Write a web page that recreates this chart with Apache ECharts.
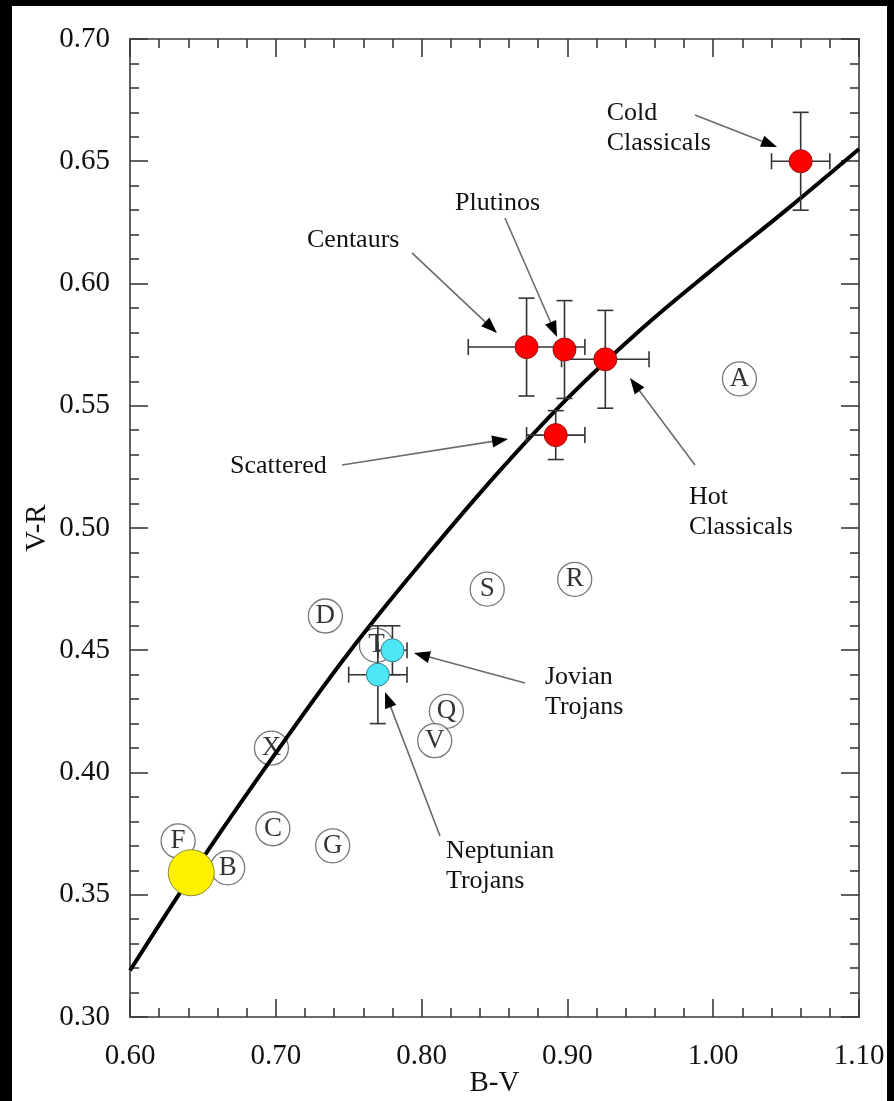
<!DOCTYPE html>
<html>
<head>
<meta charset="utf-8">
<script src="https://cdn.jsdelivr.net/npm/echarts@6/dist/echarts.min.js"></script>
<style>
html,body{margin:0;padding:0;background:#000;}
#chart{width:894px;height:1101px;}
</style>
</head>
<body>
<div id="chart"></div>
<script>
// Model colour curve (B-V, V-R)
const curveBV = [0.60, 0.65, 0.70, 0.75, 0.80, 0.85, 0.90, 0.95, 1.00, 1.05, 1.10];
const curveVR = [0.319, 0.365, 0.408, 0.449, 0.486, 0.521, 0.553, 0.581, 0.606, 0.630, 0.655];

// Trans-Neptunian populations (red)
const groupNames = ['Cold Classicals', 'Centaurs', 'Plutinos', 'Hot Classicals', 'Scattered'];
const groupBV    = [1.060, 0.872, 0.898, 0.926, 0.892];
const groupVR    = [0.650, 0.574, 0.573, 0.569, 0.538];
const groupBVerr = [0.020, 0.040, 0.006, 0.030, 0.020];
const groupVRerr = [0.020, 0.020, 0.020, 0.020, 0.010];

// Trojans (cyan)
const trojanNames = ['Jovian Trojans', 'Neptunian Trojans'];
const trojanBV    = [0.780, 0.770];
const trojanVR    = [0.450, 0.440];
const trojanBVerr = [0.010, 0.020];
const trojanVRerr = [0.010, 0.020];

// Sun
const sunBV = [0.642];
const sunVR = [0.359];

// Asteroid taxonomic classes
const classNames = ['A', 'R', 'S', 'D', 'T', 'Q', 'V', 'X', 'C', 'G', 'F', 'B'];
const classBV = [1.018, 0.905, 0.845, 0.734, 0.769, 0.817, 0.809, 0.697, 0.698, 0.739, 0.633, 0.667];
const classVR = [0.561, 0.479, 0.475, 0.464, 0.452, 0.425, 0.413, 0.410, 0.377, 0.370, 0.372, 0.361];

// Annotation texts and arrows (anchored in data units)
const noteTexts = ['Cold\nClassicals', 'Plutinos', 'Centaurs', 'Scattered', 'Hot\nClassicals', 'Jovian\nTrojans', 'Neptunian\nTrojans'];
const noteBV = [0.927, 0.8229, 0.7214, 0.6686, 0.9834, 0.8846, 0.8167];
const noteVR = [0.6636, 0.6329, 0.6178, 0.5254, 0.5065, 0.4329, 0.3618];
const arrowFromBV = [0.9875, 0.8572, 0.7934, 0.7454, 0.9875, 0.8709, 0.8126];
const arrowFromVR = [0.6689, 0.6268, 0.6125, 0.5258, 0.5258, 0.4366, 0.3740];
const arrowToBV   = [1.0438, 0.8929, 0.8517, 0.8593, 0.9429, 0.7948, 0.7749];
const arrowToVR   = [0.6558, 0.5781, 0.5798, 0.5364, 0.5613, 0.4489, 0.4329];

// Axis ticks
const xTickLabels = ['0.60', '0.70', '0.80', '0.90', '1.00', '1.10'];
const yTickLabels = ['0.30', '0.35', '0.40', '0.45', '0.50', '0.55', '0.60', '0.65', '0.70'];

const FONT = '"Liberation Serif", "DejaVu Serif", serif';
const AXIS_COLOR = '#3a3a3a';

const chart = echarts.init(document.getElementById('chart'), null, {renderer: 'canvas'});

function axisCommon(showLabel, labels, isX) {
  return {
    type: 'value',
    axisLine: {show: true, onZero: false, lineStyle: {color: AXIS_COLOR, width: 1.6}},
    axisTick: {show: true, inside: true, length: 18, lineStyle: {color: AXIS_COLOR, width: 1.6}},
    minorTick: {show: true, splitNumber: 5, length: 9, lineStyle: {color: AXIS_COLOR, width: 1.6}},
    splitLine: {show: false},
    minorSplitLine: {show: false},
    axisLabel: {
      show: showLabel,
      color: '#111',
      fontFamily: FONT,
      fontSize: 29,
      margin: isX ? 25 : 20,
      formatter: function (v) {
        const s = v.toFixed(2);
        return labels.indexOf(s) >= 0 ? s : '';
      }
    }
  };
}

const errData = groupBV.map((v, i) => [v, groupVR[i], groupBVerr[i], groupVRerr[i]])
  .concat(trojanBV.map((v, i) => [v, trojanVR[i], trojanBVerr[i], trojanVRerr[i]]));

function renderErr(params, api) {
  const x = api.value(0), y = api.value(1), ex = api.value(2), ey = api.value(3);
  const l = api.coord([x - ex, y]), r = api.coord([x + ex, y]);
  const t = api.coord([x, y + ey]), b = api.coord([x, y - ey]);
  const cap = 8;
  const st = {stroke: '#333', lineWidth: 1.6, fill: null};
  const seg = (x1, y1, x2, y2) => ({type: 'line', shape: {x1, y1, x2, y2}, style: st});
  return {
    type: 'group',
    children: [
      seg(l[0], l[1], r[0], r[1]),
      seg(l[0], l[1] - cap, l[0], l[1] + cap),
      seg(r[0], r[1] - cap, r[0], r[1] + cap),
      seg(t[0], t[1], b[0], b[1]),
      seg(t[0] - cap, t[1], t[0] + cap, t[1]),
      seg(b[0] - cap, b[1], b[0] + cap, b[1])
    ]
  };
}

const arrowData = arrowFromBV.map((v, i) => [v, arrowFromVR[i], arrowToBV[i], arrowToVR[i]]);
function renderArrow(params, api) {
  const p1 = api.coord([api.value(0), api.value(1)]);
  const p2 = api.coord([api.value(2), api.value(3)]);
  const dx = p2[0] - p1[0], dy = p2[1] - p1[1];
  const len = Math.sqrt(dx * dx + dy * dy);
  const ux = dx / len, uy = dy / len;
  const hl = 16, hw = 6;
  const bx = p2[0] - ux * hl, by = p2[1] - uy * hl;
  return {
    type: 'group',
    children: [
      {type: 'line', shape: {x1: p1[0], y1: p1[1], x2: bx + ux * 2, y2: by + uy * 2},
       style: {stroke: '#6b6b6b', lineWidth: 1.6}},
      {type: 'polygon', shape: {points: [[p2[0], p2[1]], [bx - uy * hw, by + ux * hw], [bx + uy * hw, by - ux * hw]]},
       style: {fill: '#000'}}
    ]
  };
}

const noteData = noteBV.map((v, i) => [v, noteVR[i], i]);
function renderNote(params, api) {
  const p = api.coord([api.value(0), api.value(1)]);
  const idx = api.value(2);
  return {
    type: 'text',
    x: p[0], y: p[1],
    style: {
      text: noteTexts[idx],
      font: '26px ' + FONT,
      fill: '#111',
      align: 'left', textAlign: 'left',
      verticalAlign: 'middle', textVerticalAlign: 'middle',
      lineHeight: 30
    }
  };
}

const option = {
  backgroundColor: '#000',
  animation: false,
  graphic: [{
    type: 'rect', z: -100, silent: true,
    shape: {x: 12, y: 6, width: 875, height: 1095},
    style: {fill: '#fff'}
  }],
  grid: {left: 130, top: 39, right: 35, bottom: 84, containLabel: false, outerBoundsMode: 'none'},
  xAxis: [
    Object.assign(axisCommon(true, xTickLabels, true), {
      position: 'bottom', min: 0.6, max: 1.1, interval: 0.1,
      name: 'B-V', nameLocation: 'middle', nameGap: 52, nameMoveOverlap: false,
      nameTextStyle: {fontFamily: FONT, fontSize: 29, color: '#111'}
    }),
    Object.assign(axisCommon(false, xTickLabels, true), {
      position: 'top', min: 0.6, max: 1.1, interval: 0.1
    })
  ],
  yAxis: [
    Object.assign(axisCommon(true, yTickLabels, false), {
      position: 'left', min: 0.3, max: 0.7, interval: 0.05,
      name: 'V-R', nameLocation: 'middle', nameGap: 78, nameRotate: 90, nameMoveOverlap: false,
      nameTextStyle: {fontFamily: FONT, fontSize: 29, color: '#111'}
    }),
    Object.assign(axisCommon(false, yTickLabels, false), {
      position: 'right', min: 0.3, max: 0.7, interval: 0.05
    })
  ],
  series: [
    {
      name: 'classes', type: 'scatter', z: 1,
      data: classBV.map((v, i) => [v, classVR[i]]),
      symbol: 'circle', symbolSize: 34,
      itemStyle: {color: '#fff', borderColor: '#555', borderWidth: 1.3},
      label: {
        show: true, position: 'inside',
        formatter: p => classNames[p.dataIndex],
        fontFamily: FONT, fontSize: 27, color: '#000'
      }
    },
    {
      name: 'curve', type: 'line', z: 3,
      data: curveBV.map((v, i) => [v, curveVR[i]]),
      smooth: 0.4, showSymbol: false, symbol: 'none',
      lineStyle: {color: '#000', width: 4}
    },
    {
      name: 'errors', type: 'custom', z: 4,
      renderItem: renderErr, data: errData,
      encode: {x: 0, y: 1}
    },
    {
      name: 'groups', type: 'scatter', z: 5,
      data: groupBV.map((v, i) => [v, groupVR[i]]),
      symbolSize: 23,
      itemStyle: {color: '#ff0000', borderColor: '#9a1010', borderWidth: 1, opacity: 1}
    },
    {
      name: 'trojans', type: 'scatter', z: 5,
      data: trojanBV.map((v, i) => [v, trojanVR[i]]),
      symbolSize: 23,
      itemStyle: {color: '#4de6f7', borderColor: '#3b7f8a', borderWidth: 1, opacity: 1}
    },
    {
      name: 'sun', type: 'scatter', z: 6,
      data: sunBV.map((v, i) => [v, sunVR[i]]),
      symbolSize: 46,
      itemStyle: {color: '#fff200', borderColor: '#8a8a30', borderWidth: 1, opacity: 1}
    },
    {
      name: 'arrows', type: 'custom', z: 7,
      renderItem: renderArrow, data: arrowData,
      encode: {x: 0, y: 1}
    },
    {
      name: 'notes', type: 'custom', z: 7,
      renderItem: renderNote, data: noteData,
      encode: {x: 0, y: 1}
    }
  ]
};
chart.setOption(option);
</script>
</body>
</html>
